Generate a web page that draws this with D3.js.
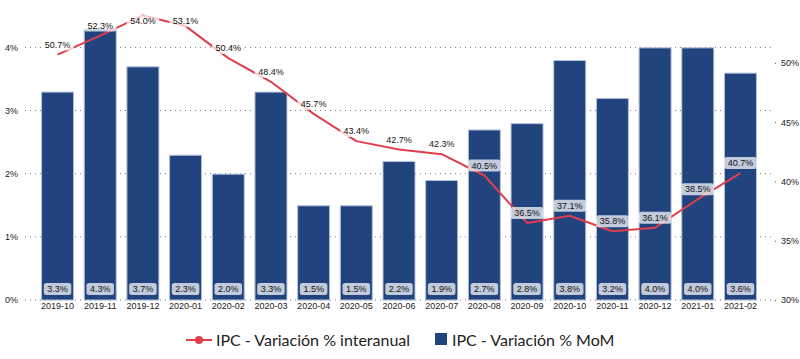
<!DOCTYPE html>
<html><head><meta charset="utf-8">
<script src="https://cdn.jsdelivr.net/npm/d3@7"></script>
<style>
body{margin:0;background:#fff;}
svg{display:block;font-family:"Liberation Sans",Arial,sans-serif;}
</style></head>
<body><svg id="c" width="800" height="359"></svg>
<script>
const categories = ["2019-10","2019-11","2019-12","2020-01","2020-02","2020-03","2020-04","2020-05","2020-06","2020-07","2020-08","2020-09","2020-10","2020-11","2020-12","2021-01","2021-02"];
const momValues = [3.3,4.3,3.7,2.3,2.0,3.3,1.5,1.5,2.2,1.9,2.7,2.8,3.8,3.2,4.0,4.0,3.6];
const yoyValues = [50.7,52.3,54.0,53.1,50.4,48.4,45.7,43.4,42.7,42.3,40.5,36.5,37.1,35.8,36.1,38.5,40.7];
const leftTicks = [0,1,2,3,4];
const rightTicks = [30,35,40,45,50];
const seriesNames = ["IPC - Variación % interanual","IPC - Variación % MoM"];

const svg = d3.select("#c");
const barColor = "#22447e", lineColor = "#df3f4c";
const x = d3.scaleBand().domain(categories).range([36.2,761.8]).paddingInner(0.227).paddingOuter(0.1135);
const yL = d3.scaleLinear().domain([0,4.75]).range([300,0]);
const yR = d3.scaleLinear().domain([30,55.3]).range([300,0]);

// gridlines
svg.append("g").selectAll("line").data(leftTicks).join("line")
  .attr("x1",25).attr("x2",773).attr("y1",d=>yL(d)).attr("y2",d=>yL(d))
  .attr("stroke","#777").attr("stroke-width",1).attr("stroke-dasharray","1,4");

// left axis
const axL = d3.axisLeft(yL).tickValues(leftTicks).tickFormat(d=>d+"%").tickSize(0).tickPadding(0);
const gL = svg.append("g").attr("transform","translate(18,0)").call(axL);
gL.select(".domain").remove();
gL.selectAll("text").attr("font-size",9).attr("fill","#222").attr("font-family","Liberation Sans, Arial, sans-serif");

// right axis
const axR = d3.axisRight(yR).tickValues(rightTicks).tickFormat(d=>d+"%").tickSize(1).tickPadding(5);
const gR = svg.append("g").attr("transform","translate(775,0)").call(axR);
gR.select(".domain").remove();
gR.selectAll("line").attr("stroke","#555");
gR.selectAll("text").attr("font-size",9).attr("fill","#222").attr("font-family","Liberation Sans, Arial, sans-serif");

// bars
svg.append("g").selectAll("rect").data(categories).join("rect")
  .attr("x",d=>x(d)+0.5).attr("width",x.bandwidth()-1)
  .attr("y",(d,i)=>yL(momValues[i])+0.5).attr("height",(d,i)=>yL(0)-yL(momValues[i])-0.5)
  .attr("fill",barColor).attr("stroke","#b4c0d8").attr("stroke-width",1);

// x axis
const axX = d3.axisBottom(x).tickSize(0).tickPadding(3);
const gX = svg.append("g").attr("transform","translate(0,300)").call(axX);
gX.select(".domain").remove();
gX.selectAll("text").attr("font-size",9).attr("fill","#222").attr("font-family","Liberation Sans, Arial, sans-serif");

// bar value labels
const fmt = d=>d.toFixed(1)+"%";
function labelBox(g, cx, cy, txt){
  const t = g.append("text").attr("x",cx).attr("y",cy).attr("dy","0.35em")
    .attr("text-anchor","middle").attr("font-size",9).attr("fill","#111").text(txt);
  const w = t.node().getComputedTextLength();
  g.insert("rect","text").attr("x",cx-w/2-3.5).attr("y",cy-6).attr("width",w+7).attr("height",12)
    .attr("rx",2.5).attr("fill","rgba(255,255,255,0.72)");
}
const gBL = svg.append("g");
categories.forEach((c,i)=>{
  const g = gBL.append("g");
  labelBox(g, x(c)+x.bandwidth()/2, 289, fmt(momValues[i]));
});

// line
const line = d3.line().x((d,i)=>x(categories[i])+x.bandwidth()/2).y(d=>yR(d));
svg.append("path").datum(yoyValues).attr("d",line).attr("fill","none")
  .attr("stroke",lineColor).attr("stroke-width",2).attr("stroke-linejoin","round");

const gLL = svg.append("g");
categories.forEach((c,i)=>{
  const g = gLL.append("g");
  labelBox(g, x(c)+x.bandwidth()/2, Math.max(21, yR(yoyValues[i])-10), fmt(yoyValues[i]));
});

// legend
const leg = svg.append("g").attr("font-family","Lato, sans-serif");
leg.append("line").attr("x1",186).attr("x2",212).attr("y1",340).attr("y2",340).attr("stroke",lineColor).attr("stroke-width",2);
leg.append("circle").attr("cx",199).attr("cy",340).attr("r",4).attr("fill",lineColor);
leg.append("text").attr("x",216).attr("y",340).attr("dy","0.35em").attr("font-size",16).attr("fill","#222").text(seriesNames[0]);
leg.append("rect").attr("x",435).attr("y",333).attr("width",12).attr("height",12).attr("fill",barColor);
leg.append("text").attr("x",452).attr("y",340).attr("dy","0.35em").attr("font-size",16).attr("fill","#222").text(seriesNames[1]);
</script></body></html>
